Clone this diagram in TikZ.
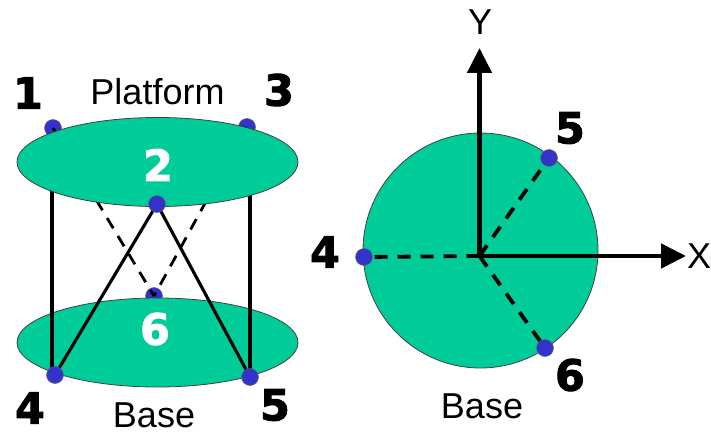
\documentclass[tikz,border=0pt]{standalone}
\usepackage{fontspec}
\setmainfont{Liberation Sans}
\newfontfamily\heavyfont{DejaVu Sans Bold}[FakeBold=2.2]
\usetikzlibrary{shapes.geometric,arrows.meta}
\pgfdeclarelayer{lback}\pgfdeclarelayer{lbase}\pgfdeclarelayer{lleg}\pgfdeclarelayer{lplat}
\pgfsetlayers{lback,lbase,lleg,lplat,main}
\definecolor{plategreen}{HTML}{00CC99}
\definecolor{jointblue}{HTML}{3333CC}
\tikzset{
  plate/.style={ellipse,draw=black!75,line width=0.8pt,fill=plategreen,minimum width=281pt,minimum height=89pt,inner sep=0pt},
  basedisc/.style={circle,draw=black!75,line width=0.8pt,fill=plategreen,minimum size=235pt,inner sep=0pt},
  joint/.style={circle,draw=black!60,line width=0.5pt,fill=jointblue,minimum size=17pt,inner sep=0pt},
  leg/.style={line width=3.1pt,black},
  hiddenleg/.style={line width=2.8pt,black,dash pattern=on 12pt off 9pt},
  radius/.style={line width=3.8pt,black,dash pattern=on 13pt off 10pt},
  axis/.style={line width=4.8pt,black,-{Triangle[length=25pt,width=24pt]}},
  numlabel/.style={font=\heavyfont\fontsize{43}{43}\selectfont,black,inner sep=0pt},
  whitelabel/.style={numlabel,white},
  txt/.style={font=\fontsize{36}{36}\selectfont,black,inner sep=0pt},
}
\begin{document}
\begin{tikzpicture}[x=1pt,y=-1pt]
\useasboundingbox (0,0) rectangle (711,433);
% Left: platform and base
\begin{pgfonlayer}{lback}
  \node[joint] (j1) at (53,128) {};
  \node[joint] (j3) at (247,127) {};
  \node[joint] (j6) at (154,296) {};
  \draw[hiddenleg] (j1.center) -- (j6.center);
  \draw[hiddenleg] (j3.center) -- (j6.center);
\end{pgfonlayer}
\begin{pgfonlayer}{lbase}
  \node[plate] (base) at (157.5,342.5) {};
\end{pgfonlayer}
\begin{pgfonlayer}{lplat}
  \node[plate] (platform) at (157.5,162) {};
\end{pgfonlayer}
\node[joint] (j2) at (157,204) {};
\node[joint] (j4) at (55,375) {};
\node[joint] (j5) at (250,377) {};
\coordinate (t4) at (52,170);
\coordinate (e4) at (52,372);
\coordinate (t5) at (250,170);
\begin{pgfonlayer}{lleg}
  \draw[leg] (t4) -- (e4);
  \draw[leg] (t5) -- (j5.center);
  \draw[leg] (j2.center) -- (j4.center);
  \draw[leg] (j2.center) -- (j5.center);
\end{pgfonlayer}
\node[numlabel] (n1) at (28,93) {1};
\node[numlabel] (n3) at (279,90) {3};
\node[numlabel] (n4) at (30,408) {4};
\node[numlabel] (n5) at (275,405) {5};
\node[whitelabel] (n2) at (158,165) {2};
\node[whitelabel] (n6) at (155,329) {6};
\node[txt] (lplatform) at (157.5,92) {Platform};
\node[txt] (lbase) at (154,415) {Base};
% Right: top view of the base
\begin{pgfonlayer}{lback}
  \node[basedisc] (disc) at (480.5,250.5) {};
\end{pgfonlayer}
\coordinate (o) at (479.5,256);
\coordinate (ytip) at (479.5,48);
\coordinate (xtip) at (686,256);
\node[joint] (r4) at (364,257) {};
\node[joint] (r5) at (549,158) {};
\node[joint] (r6) at (545,348) {};
\begin{pgfonlayer}{lbase}
  \draw[radius] (o) -- (r4.center);
  \draw[radius] (o) -- (r5.center);
  \draw[radius] (o) -- (r6.center);
\end{pgfonlayer}
\draw[axis] (o) -- (ytip);
\draw[axis] (o) -- (xtip);
\node[numlabel] (m4) at (325,252) {4};
\node[numlabel] (m5) at (570,128) {5};
\node[numlabel] (m6) at (570,375) {6};
\node[txt] (ly) at (480,22) {Y};
\node[txt] (lx) at (699,256) {X};
\node[txt] (lb2) at (482,406) {Base};
\end{tikzpicture}
\end{document}
